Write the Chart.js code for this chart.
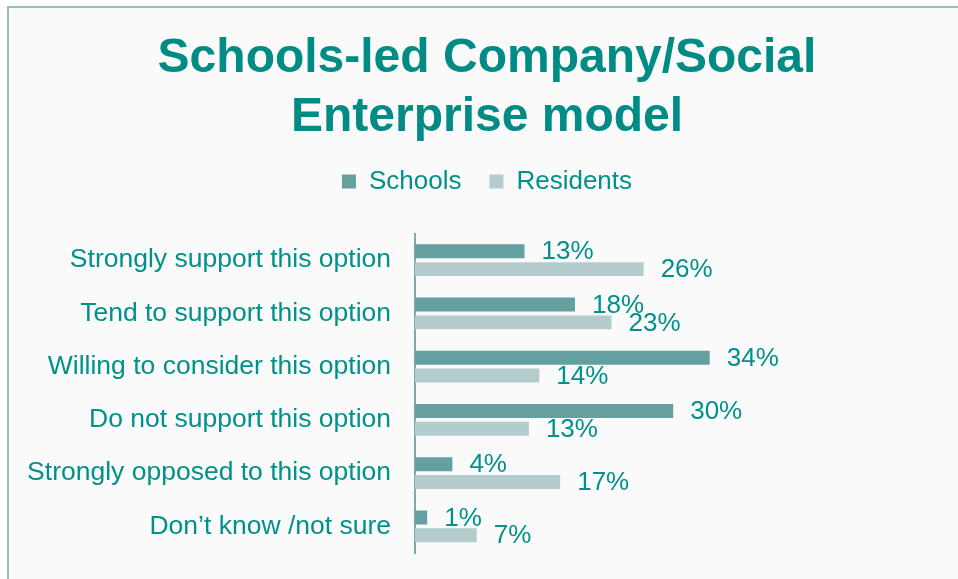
<!DOCTYPE html>
<html>
<head>
<meta charset="utf-8">
<script src="https://cdn.jsdelivr.net/npm/chart.js@4.4.1/dist/chart.umd.min.js"></script>
<style>
    html, body { margin: 0; padding: 0; background: #ffffff; }
    #panel {
        position: absolute; left: 7px; top: 6px; width: 960px; height: 580px;
        background: #fafafa; border-left: 2px solid #93bfbc; border-top: 2px solid #93bfbc;
    }
    #wrap { position: absolute; left: 0; top: 0; width: 958px; height: 579px; }
</style>
</head>
<body>
<div id="panel"></div>
<div id="wrap"><canvas id="chart" width="958" height="579"></canvas></div>
<script>
// 回答カテゴリ
const categories = [
    'Strongly support this option',
    'Tend to support this option',
    'Willing to consider this option',
    'Do not support this option',
    'Strongly opposed to this option',
    'Don\u2019t know /not sure'
];

// 系列の値（%）
const schoolsValues = [12.6, 18.4, 33.9, 29.7, 4.3, 1.4];
const residentsValues = [26.3, 22.6, 14.3, 13.1, 16.7, 7.1];

const titleLines = ['Schools-led Company/Social', 'Enterprise model'];

const TEAL = '#00918b';
const FONT = '"Liberation Sans", Arial, sans-serif';

// バーの右側に%ラベルを描く
const valueLabels = {
    id: 'valueLabels',
    afterDatasetsDraw(chart) {
        const ctx = chart.ctx;
        ctx.save();
        ctx.font = '26px ' + FONT;
        ctx.fillStyle = TEAL;
        ctx.textAlign = 'left';
        ctx.textBaseline = 'middle';
        chart.data.datasets.forEach((ds, i) => {
            chart.getDatasetMeta(i).data.forEach((bar, j) => {
                ctx.fillText(Math.round(ds.data[j]) + '%', bar.x + 17, bar.y + 1);
            });
        });
        ctx.restore();
    }
};

const ctx = document.getElementById('chart').getContext('2d');
new Chart(ctx, {
    type: 'bar',
    data: {
        labels: categories,
        datasets: [
            {
                label: 'Schools',
                data: schoolsValues,
                backgroundColor: '#63a09f',
                categoryPercentage: 0.67,
                barPercentage: 0.78
            },
            {
                label: 'Residents',
                data: residentsValues,
                backgroundColor: '#b4cccc',
                categoryPercentage: 0.67,
                barPercentage: 0.78
            }
        ]
    },
    options: {
        indexAxis: 'y',
        responsive: false,
        animation: false,
        layout: {
            padding: { left: 20, right: 4, top: 0, bottom: 26 }
        },
        scales: {
            x: {
                display: false,
                min: 0,
                max: 62
            },
            y: {
                afterFit: (scale) => {
                    scale.width = 395;
                    scale.paddingTop = 0;
                    scale.paddingBottom = 0;
                },
                grid: { display: false, drawTicks: false },
                border: { display: true, color: '#7fabab', width: 2 },
                ticks: {
                    color: TEAL,
                    padding: 24,
                    font: { family: FONT, size: 26.5 }
                }
            }
        },
        plugins: {
            title: {
                display: true,
                text: titleLines,
                color: '#008b85',
                padding: { top: 29, bottom: -7 },
                font: { family: FONT, size: 48, weight: 'bold', lineHeight: 1.235 }
            },
            // 凡例とグラフの間の余白用
            subtitle: {
                display: true,
                text: '',
                weight: 500,
                padding: { top: 28, bottom: 0 },
                font: { size: 1, lineHeight: 1 }
            },
            legend: {
                display: true,
                labels: {
                    color: TEAL,
                    boxWidth: 14,
                    boxHeight: 14,
                    padding: 28,
                    font: { family: FONT, size: 26 }
                }
            },
            tooltip: { enabled: false }
        }
    },
    plugins: [valueLabels]
});
</script>
</body>
</html>
